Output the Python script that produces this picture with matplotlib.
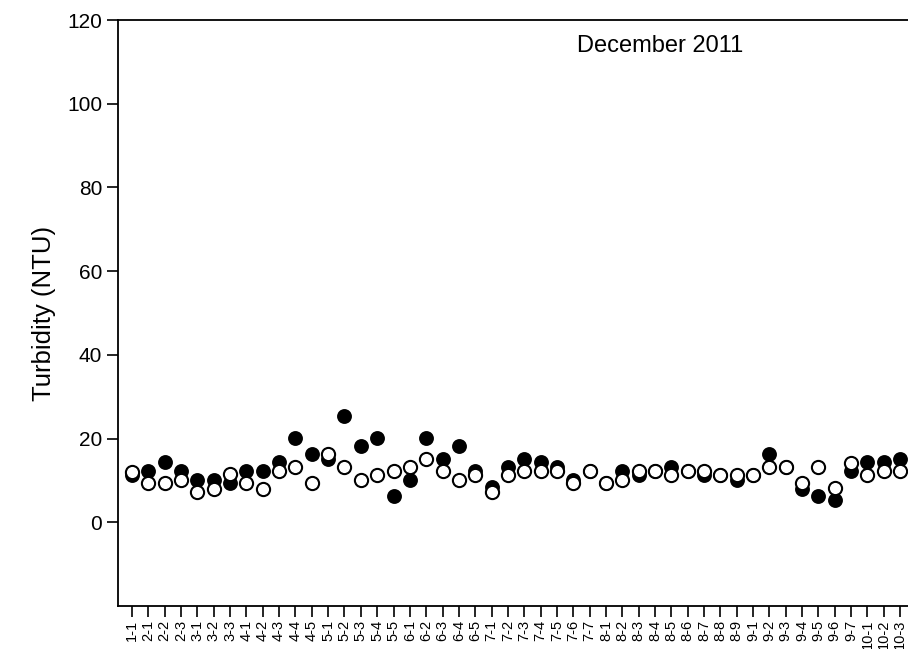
import matplotlib
matplotlib.use("Agg")
import matplotlib.pyplot as plt

plt.rcParams['font.family'] = ['Liberation Sans', 'DejaVu Sans']

sites = ["1-1", "2-1", "2-2", "2-3", "3-1", "3-2", "3-3", "4-1", "4-2", "4-3",
         "4-4", "4-5", "5-1", "5-2", "5-3", "5-4", "5-5", "6-1", "6-2", "6-3",
         "6-4", "6-5", "7-1", "7-2", "7-3", "7-4", "7-5", "7-6", "7-7", "8-1",
         "8-2", "8-3", "8-4", "8-5", "8-6", "8-7", "8-8", "8-9", "9-1", "9-2",
         "9-3", "9-4", "9-5", "9-6", "9-7", "10-1", "10-2", "10-3"]

filled_vals = [11.2, 12.2, 14.3, 12.2, 10.0, 10.0, 9.3, 12.2, 12.2, 14.4,
               20.2, 16.3, 15.2, 25.3, 18.2, 20.2, 6.2, 10.0, 20.2, 15.2,
               18.2, 12.2, 8.5, 13.2, 15.2, 14.3, 13.2, 10.2, 12.2, 9.3,
               12.2, 11.2, 12.2, 13.2, 12.2, 11.2, 11.2, 10.2, 11.2, 16.4,
               13.2, 8.0, 6.2, 5.3, 12.2, 14.3, 14.3, 15.2]

open_vals = [12.0, 9.3, 9.3, 10.0, 7.3, 8.0, 11.5, 9.3, 8.0, 12.2,
             13.2, 9.3, 16.3, 13.2, 10.0, 11.2, 12.2, 13.2, 15.2, 12.2,
             10.0, 11.2, 7.3, 11.2, 12.2, 12.2, 12.2, 9.3, 12.2, 9.3,
             10.0, 12.2, 12.2, 11.2, 12.2, 12.2, 11.2, 11.2, 11.2, 13.2,
             13.2, 9.4, 13.2, 8.2, 14.2, 11.2, 12.2, 12.2]

y_ticks = [0, 20, 40, 60, 80, 100, 120]

fig = plt.figure(figsize=(9.08, 6.49), dpi=100)
ax = fig.add_axes([118/908, 1 - 606/649, 1 - 118/908 + 0.01, (606 - 20)/649])

x = list(range(len(sites)))
ax.plot(x, filled_vals, linestyle='none', marker='o', markersize=9.5,
        markerfacecolor='black', markeredgecolor='black', markeredgewidth=1.2, zorder=3)
ax.plot(x, open_vals, linestyle='none', marker='o', markersize=9.5,
        markerfacecolor='white', markeredgecolor='black', markeredgewidth=1.5, zorder=4)

ax.set_ylim(-20, 120)
ax.set_yticks(y_ticks)
ax.set_yticklabels([str(v) for v in y_ticks], fontsize=15)
ax.set_xlim(-0.86, 48.04)
ax.set_xticks(x)
ax.set_xticklabels(sites, rotation=90, fontsize=10.5)

ax.set_ylabel("Turbidity (NTU)", fontsize=18.5, labelpad=8)
ax.text(0.575, 0.955, "December 2011", transform=ax.transAxes, fontsize=17,
        ha='left', va='center')

for s in ['left', 'bottom', 'top']:
    ax.spines[s].set_linewidth(1.3)
ax.spines['right'].set_visible(False)
ax.tick_params(axis='both', direction='out', length=8, width=1.2, colors='black')
ax.tick_params(axis='x', pad=2)

fig.savefig("out.png", dpi=100)
